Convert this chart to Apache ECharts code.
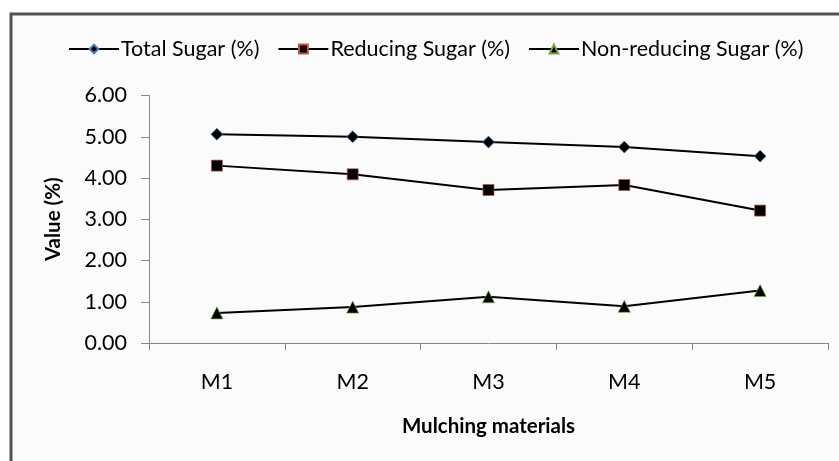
<!DOCTYPE html>
<html>
<head>
<meta charset="utf-8">
<script src="https://cdn.jsdelivr.net/npm/echarts@6/dist/echarts.min.js"></script>
<style>
  html, body { margin: 0; padding: 0; background: #ffffff; }
  #chart { width: 839px; height: 461px; }
</style>
</head>
<body>
<div id="chart"></div>
<script>
// data
const categories = ["M1", "M2", "M3", "M4", "M5"];
const totalSugar = [5.06, 5.00, 4.87, 4.75, 4.53];
const reducingSugar = [4.30, 4.09, 3.71, 3.83, 3.21];
const nonReducingSugar = [0.73, 0.87, 1.12, 0.89, 1.27];

const fontFamily = "Lato, 'Open Sans', sans-serif";

const chart = echarts.init(document.getElementById("chart"));

// one line series, black line with a coloured-edge marker
const makeSeries = (name, data, symbol, size, edge) => ({
  name: name,
  type: "line",
  data: data,
  symbol: symbol,
  symbolSize: size,
  lineStyle: { color: "#000", width: 2 },
  itemStyle: { color: "#000", borderColor: edge, borderWidth: 0.7 },
  emphasis: { disabled: true },
  animation: false,
});

const option = {
  backgroundColor: "#ffffff",
  textStyle: { fontFamily: fontFamily },
  graphic: [
    {
      type: "rect",
      shape: { x: 11, y: 14, width: 850, height: 460 },
      style: { fill: "#fbfbfb", stroke: "#4f5552", lineWidth: 3 },
      z: -10,
    },
  ],
  legend: {
    top: 33,
    left: 63,
    itemWidth: 50,
    itemHeight: 11,
    itemGap: 18,
    textStyle: { fontSize: 21.5, color: "#000", fontFamily: fontFamily, padding: [0, 0, 0, -3] },
    data: ["Total Sugar (%)", "Reducing Sugar (%)", "Non-reducing Sugar (%)"],
  },
  grid: { left: 149, right: 11, top: 95.5, bottom: 118, containLabel: false },
  xAxis: {
    type: "category",
    data: categories,
    boundaryGap: true,
    name: "Mulching materials",
    nameLocation: "middle",
    nameGap: 73,
    nameTextStyle: { fontSize: 20.5, fontWeight: "bold", color: "#000", fontFamily: fontFamily },
    axisLine: { lineStyle: { color: "#868686", width: 1 } },
    axisTick: { show: true, length: 7, lineStyle: { color: "#868686" } },
    axisLabel: { fontSize: 21.5, color: "#000", margin: 28, fontFamily: fontFamily },
  },
  yAxis: {
    type: "value",
    min: 0,
    max: 6,
    interval: 1,
    name: "Value (%)",
    nameLocation: "middle",
    nameGap: 85,
    nameTextStyle: { fontSize: 20.5, fontWeight: "bold", color: "#000", fontFamily: fontFamily },
    axisLine: { show: true, lineStyle: { color: "#868686", width: 1 } },
    axisTick: { show: true, length: 8, lineStyle: { color: "#868686" } },
    splitLine: { show: false },
    axisLabel: {
      fontSize: 21.5,
      color: "#000",
      margin: 22,
      fontFamily: fontFamily,
      formatter: (v) => v.toFixed(2),
    },
  },
  series: [
    makeSeries("Total Sugar (%)", totalSugar, "diamond", 12, "#4f81bd"),
    makeSeries("Reducing Sugar (%)", reducingSugar, "rect", 11, "#c0504d"),
    makeSeries("Non-reducing Sugar (%)", nonReducingSugar, "triangle", 12, "#7aa64a"),
  ],
};

chart.setOption(option);
</script>
</body>
</html>
